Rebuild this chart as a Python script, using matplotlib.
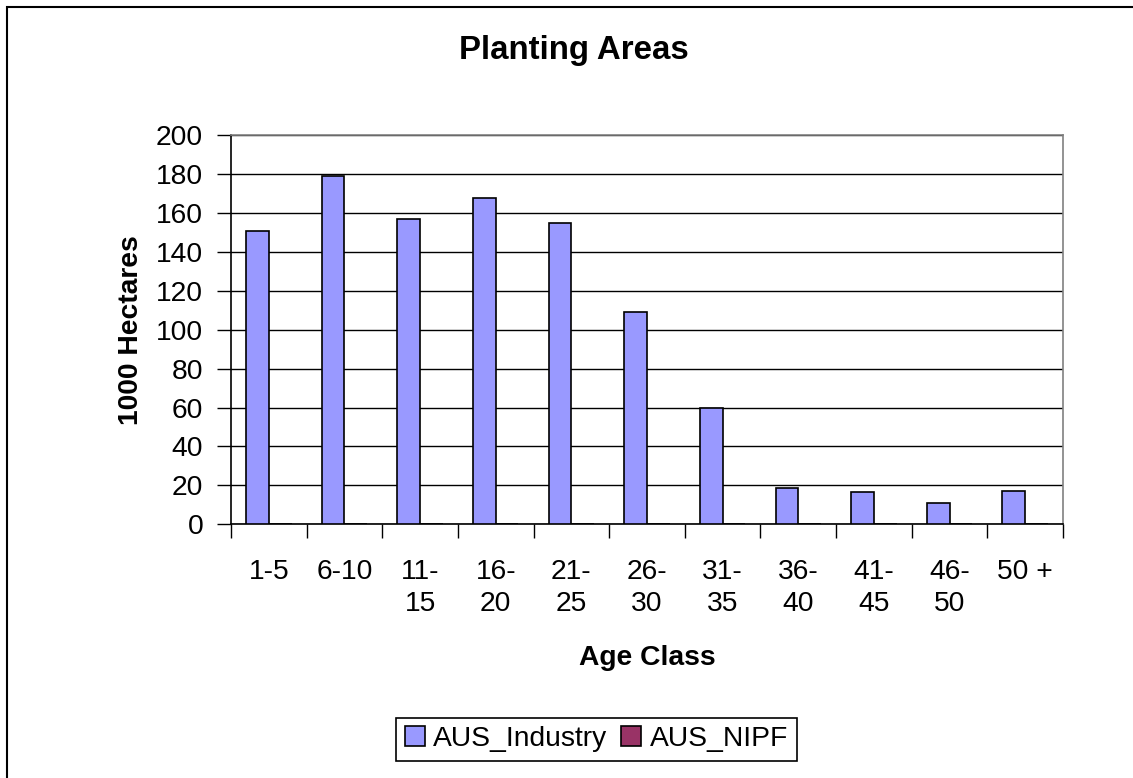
import numpy as np
import matplotlib
matplotlib.use('Agg')
import matplotlib.pyplot as plt
from matplotlib.patches import Rectangle

plt.rcParams['font.family'] = ['Liberation Sans', 'DejaVu Sans']

age_classes = ['1-5', '6-10', '11-\n15', '16-\n20', '21-\n25', '26-\n30',
               '31-\n35', '36-\n40', '41-\n45', '46-\n50', '50 +']
aus_industry = [151, 179, 157, 168, 155, 109, 60, 18.5, 16.5, 11, 17.3]
aus_nipf = [0, 0, 0, 0, 0, 0, 0, 0, 0, 0, 0]

FS = 20.3
W, H = 1133, 778
fig = plt.figure(figsize=(W / 100, H / 100), dpi=100)
ax = fig.add_axes([231 / W, 1 - 524.3 / H, 832 / W, 389 / H])

x = np.arange(len(age_classes))
bw = 0.3
ax.bar(x - bw / 2, aus_industry, bw, color='#9999FF', edgecolor='black',
       linewidth=1.2, label='AUS_Industry', zorder=3)
ax.bar(x + bw / 2, aus_nipf, bw, color='#993366', edgecolor='black',
       linewidth=1.2, label='AUS_NIPF', zorder=3)

ax.set_xlim(-0.5, len(age_classes) - 0.5)
ax.set_ylim(0, 200)
ax.set_yticks(range(0, 201, 20))
ax.set_xticks(x)
ax.set_xticklabels(age_classes, fontsize=FS, linespacing=1.3)
ax.set_xticks(np.arange(-0.5, len(age_classes)), minor=True)
ax.tick_params(axis='x', which='major', length=0, pad=25)
ax.tick_params(axis='x', which='minor', length=10, width=1, direction='out')
ax.tick_params(axis='y', length=10, width=1, direction='out', pad=10,
               labelsize=FS)

ax.yaxis.grid(True, color='black', linewidth=1)
ax.set_axisbelow(True)
for s in ['top', 'right']:
    ax.spines[s].set_color('#808080')
    ax.spines[s].set_linewidth(1.2)
for s in ['left', 'bottom']:
    ax.spines[s].set_linewidth(1.2)

ax.set_xlabel('Age Class', fontsize=FS, fontweight='bold', va='top')
ax.xaxis.set_label_coords(0.5, -0.31)
ax.set_ylabel('1000 Hectares', fontsize=FS, fontweight='bold')
ax.yaxis.set_label_coords(-0.105, 0.5)

fig.text(573.5 / W, 1 - 51 / H, 'Planting Areas', fontsize=23.8,
         fontweight='bold', ha='center', va='center')

leg = fig.legend(loc='center', bbox_to_anchor=(596.5 / W, 1 - 739.2 / H),
                 ncol=2, fontsize=FS, frameon=True, fancybox=False,
                 edgecolor='black', framealpha=1, handlelength=0.7,
                 handleheight=0.7, handletextpad=0.3, columnspacing=0.5,
                 borderpad=0.3)
leg.get_frame().set_linewidth(1.2)

fig.patches.append(Rectangle((7 / W, -0.1), 1.2, 1 - 7 / H + 0.1,
                             transform=fig.transFigure, fill=False,
                             edgecolor='black', linewidth=1.5))

fig.savefig('out.png', dpi=100)
